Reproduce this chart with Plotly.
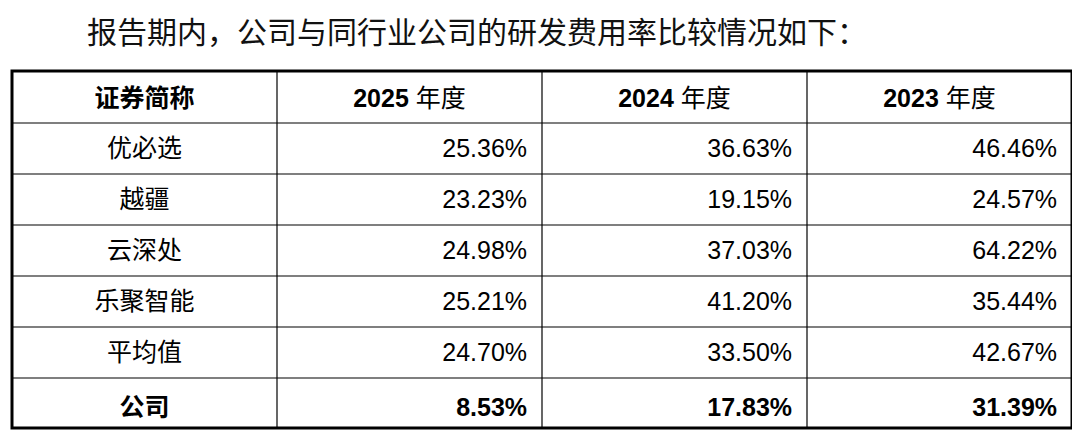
import plotly.graph_objects as go

title = "报告期内，公司与同行业公司的研发费用率比较情况如下："
header = ["<b>证券简称</b>", "<b>2025</b> 年度", "<b>2024</b> 年度", "<b>2023</b> 年度"]
names = ["优必选", "越疆", "云深处", "乐聚智能", "平均值", "公司"]
rate_2025 = [25.36, 23.23, 24.98, 25.21, 24.70, 8.53]
rate_2024 = [36.63, 19.15, 37.03, 41.20, 33.50, 17.83]
rate_2023 = [46.46, 24.57, 64.22, 35.44, 42.67, 31.39]

W, H = 1080, 444
# the page body has an 8px margin, so positions are given relative to it
off = 8
left, right, top, bottom = 12 - off, 1072 - off, 71 - off, 428 - off
head_h, row_h = 52, 51
text_drop = 5  # plotly puts cell text near the top; push it down to centre it
body_drop = 2  # body rows need a little more than the header
pad = "\u00a0"


def fmt(values):
    out = []
    for i, v in enumerate(values):
        s = f"{v:.2f}%"
        if names[i] == "公司":
            s = f"<b>{s}</b>"
        out.append(s + pad)
    return out


name_col = [f"<b>{n}</b>" if n == "公司" else n for n in names]
columns = [name_col, fmt(rate_2025), fmt(rate_2024), fmt(rate_2023)]

font_family = "Liberation Sans, Arial, Noto Sans CJK SC, sans-serif"


def px(xv, yv):
    return xv / W, (H - yv) / H


fig = go.Figure(go.Table(
    domain=dict(x=[left / W, right / W],
                y=[0, (H - top - text_drop) / H]),
    columnwidth=[1] * len(columns),
    header=dict(
        values=header,
        align="center",
        height=head_h + body_drop,
        fill_color="white",
        line=dict(color="rgba(0,0,0,0)", width=0),
        font=dict(family=font_family, size=25, color="black"),
    ),
    cells=dict(
        values=columns,
        align=["center", "right", "right", "right"],
        height=row_h,
        fill_color="white",
        line=dict(color="rgba(0,0,0,0)", width=0),
        font=dict(family=font_family, size=25, color="black"),
    ),
))

# grid lines
col_w = (right - left) / len(columns)
for j in range(1, len(columns)):
    x0, _ = px(left + j * col_w, 0)
    fig.add_shape(type="line", xref="paper", yref="paper",
                  x0=x0, x1=x0, y0=px(0, bottom)[1], y1=px(0, top)[1],
                  line=dict(color="black", width=1.2))
for i in range(len(names)):
    _, y0 = px(0, top + head_h + i * row_h)
    fig.add_shape(type="line", xref="paper", yref="paper",
                  x0=left / W, x1=right / W, y0=y0, y1=y0,
                  line=dict(color="black", width=1.2))

fig.add_shape(type="rect", xref="paper", yref="paper",
              x0=left / W, x1=right / W, y0=(H - bottom) / H, y1=(H - top) / H,
              line=dict(color="black", width=3))

fig.add_annotation(text=title, xref="paper", yref="paper",
                   x=(85 - off) / W, y=(H - 30 + off) / H,
                   xanchor="left", yanchor="middle", showarrow=False,
                   font=dict(family="Noto Sans CJK SC", size=30, color="#111"))

fig.update_layout(width=W, height=H, margin=dict(l=0, r=0, t=0, b=0),
                  paper_bgcolor="white", plot_bgcolor="white")

fig.write_html("out.html")
